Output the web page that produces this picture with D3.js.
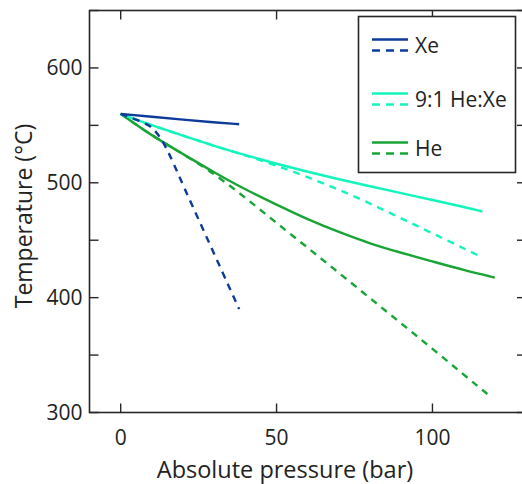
<!DOCTYPE html>
<html><head><meta charset="utf-8">
<script src="https://cdn.jsdelivr.net/npm/d3@7"></script>
<style>body{margin:0;background:#fff}svg{display:block}text{font-family:"Open Sans",sans-serif;fill:#222}</style>
</head><body>
<svg id="c" width="522" height="484"></svg>
<script>
const xeSolidP = [0, 10, 20, 30, 38];
const xeSolidT = [560, 557.5, 555, 552.5, 551];
const xeDashP = [0, 5, 9.7, 12.6, 14.5, 16.8, 20, 25, 30, 35, 38];
const xeDashT = [560, 555, 550, 540, 531, 518, 498, 468, 438, 408, 390];
const mixSolidP = [0, 10, 20, 30, 40, 50, 60, 70, 80, 90, 100, 110, 116];
const mixSolidT = [560, 550, 541, 532, 524, 516.5, 509.5, 503, 497, 491, 485, 479, 475];
const mixDashP = [0, 10, 20, 30, 40, 50, 60, 70, 80, 90, 100, 110, 116];
const mixDashT = [560, 550, 541, 532, 524, 515, 505, 494, 482, 469, 456, 443, 435];
const heSolidP = [0, 10, 20, 30, 40, 50, 60, 70, 80, 90, 100, 110, 120];
const heSolidT = [560, 541, 525, 509, 494, 481, 468, 457, 447, 439, 431.5, 424, 417.5];
const heDashP = [0, 10, 20, 30, 40, 50, 60, 70, 80, 90, 100, 110, 119];
const heDashT = [560, 541, 525, 508, 487, 465, 443.5, 421.5, 399.5, 377.5, 355.5, 333, 313];
const xTicks = [0, 50, 100];
const yTicks = [300, 350, 400, 450, 500, 550, 600, 650];
const yLabels = [300, 400, 500, 600];
const legendNames = ["Xe", "9:1 He:Xe", "He"];
const colors = {xe: "#0d3b99", mix: "#12f5bd", he: "#18a536"};

const svg = d3.select("#c");
const x = d3.scaleLinear().domain([-10, 130]).range([89.5, 526]);
const y = d3.scaleLinear().domain([300, 650]).range([412.5, 10.5]);
const axisCol = "#262626";

const line = d3.line().x(d => x(d[0])).y(d => y(d[1])).curve(d3.curveBasis);
const zip = (a, b) => a.map((v, i) => [v, b[i]]);
const series = [
  {p: heDashP, t: heDashT, c: colors.he, dash: true},
  {p: heSolidP, t: heSolidT, c: colors.he, dash: false},
  {p: mixDashP, t: mixDashT, c: colors.mix, dash: true},
  {p: mixSolidP, t: mixSolidT, c: colors.mix, dash: false},
  {p: xeDashP, t: xeDashT, c: colors.xe, dash: true},
  {p: xeSolidP, t: xeSolidT, c: colors.xe, dash: false}
];
svg.append("g").selectAll("path").data(series).join("path")
  .attr("d", d => line(zip(d.p, d.t)))
  .attr("fill", "none").attr("stroke", d => d.c).attr("stroke-width", 2.4)
  .attr("stroke-dasharray", d => d.dash ? "7,6" : null);

// axes box
const g = svg.append("g");
const [x0, x1] = x.range(), [y0, y1] = y.range();
g.append("rect").attr("x", x0).attr("y", y1).attr("width", x1 - x0).attr("height", y0 - y1)
  .attr("fill", "none").attr("stroke", axisCol).attr("stroke-width", 1.6);
const tl = 9;
xTicks.forEach(v => {
  g.append("line").attr("x1", x(v)).attr("x2", x(v)).attr("y1", y0).attr("y2", y0 - tl).attr("stroke", axisCol).attr("stroke-width", 1.4);
  g.append("line").attr("x1", x(v)).attr("x2", x(v)).attr("y1", y1).attr("y2", y1 + tl).attr("stroke", axisCol).attr("stroke-width", 1.4);
  g.append("text").attr("x", x(v)).attr("y", 445).attr("text-anchor", "middle").attr("font-size", 21).text(v);
});
yTicks.forEach(v => {
  g.append("line").attr("x1", x0).attr("x2", x0 + tl).attr("y1", y(v)).attr("y2", y(v)).attr("stroke", axisCol).attr("stroke-width", 1.4);
  g.append("line").attr("x1", x1).attr("x2", x1 - tl).attr("y1", y(v)).attr("y2", y(v)).attr("stroke", axisCol).attr("stroke-width", 1.4);
});
yLabels.forEach(v => {
  g.append("text").attr("x", 82.5).attr("y", y(v)).attr("dy", "0.35em").attr("text-anchor", "end").attr("font-size", 21).text(v);
});
svg.append("text").attr("x", 285).attr("y", 478).attr("text-anchor", "middle").attr("font-size", 23.5).text("Absolute pressure (bar)");
svg.append("text").attr("transform", "translate(32,216) rotate(-90)").attr("text-anchor", "middle").attr("font-size", 23).text("Temperature (°C)");

// legend
const lg = svg.append("g");
lg.append("rect").attr("x", 358.5).attr("y", 16.5).attr("width", 157).attr("height", 156)
  .attr("fill", "#fff").attr("stroke", axisCol).attr("stroke-width", 1.6);
const lc = [colors.xe, colors.mix, colors.he];
const ly = [39.5, 93.5, 142.5];
legendNames.forEach((n, i) => {
  lg.append("line").attr("x1", 372).attr("x2", 408).attr("y1", ly[i]).attr("y2", ly[i]).attr("stroke", lc[i]).attr("stroke-width", 2.4);
  lg.append("line").attr("x1", 372).attr("x2", 408).attr("y1", ly[i] + 11).attr("y2", ly[i] + 11).attr("stroke", lc[i]).attr("stroke-width", 2.4).attr("stroke-dasharray", "8,6");
  lg.append("text").attr("x", 415).attr("y", ly[i] + 6).attr("dy", "0.35em").attr("font-size", 21).text(n);
});
</script>
</body></html>
